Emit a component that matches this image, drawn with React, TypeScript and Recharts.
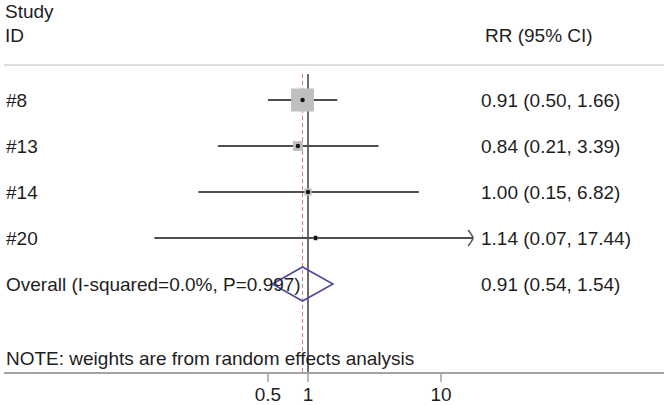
import React from 'react';
import { ScatterChart, Scatter, XAxis, YAxis, ErrorBar, ReferenceLine } from 'recharts';

// ---- data ----
const studies = ['#8', '#13', '#14', '#20'];
const rr = [0.91, 0.84, 1.0, 1.14];
const lower = [0.5, 0.21, 0.15, 0.07];
const upper = [1.66, 3.39, 6.82, 17.44];
const weights = [75.2, 13.9, 7.4, 3.5];
const overallLabel = 'Overall (I-squared=0.0%, P=0.997)';
const overallRR = 0.91;
const overallLower = 0.54;
const overallUpper = 1.54;
const ciTexts = [
  '0.91 (0.50, 1.66)',
  '0.84 (0.21, 3.39)',
  '1.00 (0.15, 6.82)',
  '1.14 (0.07, 17.44)',
  '0.91 (0.54, 1.54)',
];
const xTicks = [0.5, 1, 10];
const arrowCut = 10;

// ---- layout constants ----
const W = 664;
const H = 405;
const FONT = '"Liberation Sans", Arial, Helvetica, sans-serif';
const FS = 19;
const TXT = '#1e1e1e';
const X_MIN = Math.pow(10, -(308 - 4) / 133);
const X_MAX = Math.pow(10, (664 - 308) / 133);
const ROW_PX = 46;
const Y_TOP = 1 - 35 / ROW_PX;
const Y_BOTTOM = Y_TOP + 308 / ROW_PX;
const Y_REF_TOP = 1 - 26 / ROW_PX;
const DIAMOND_HALF = 17 / ROW_PX;

const rowLabels = [...studies, overallLabel];
const rowRR = [...rr, overallRR];

const labelData = rowLabels.map((l, i) => ({ x: rowRR[i], y: i + 1, label: l, ci: ciTexts[i] }));
const boxData = studies.map((s, i) => ({ x: rr[i], y: i + 1, w: weights[i] }));
const pointData = studies.map((s, i) => ({
  x: rr[i],
  y: i + 1,
  err: [rr[i] - lower[i], upper[i] - rr[i]],
}));
const arrowData = studies
  .map((s, i) => ({ x: upper[i], y: i + 1 }))
  .filter((d) => d.x > arrowCut);
const oy = studies.length + 1;
const diamondData = [
  { x: overallLower, y: oy },
  { x: overallRR, y: oy - DIAMOND_HALF },
  { x: overallUpper, y: oy },
  { x: overallRR, y: oy + DIAMOND_HALF },
  { x: overallLower, y: oy },
];

const BoxShape = (props: any) => {
  const { cx, cy, payload } = props;
  const side = 2.65 * Math.sqrt(payload.w);
  return <rect x={cx - side / 2} y={cy - side / 2} width={side} height={side} fill="#bfbfbf" />;
};

const DotShape = (props: any) => {
  const { cx, cy } = props;
  return <circle cx={cx} cy={cy} r={2.2} fill="#111" />;
};

const ArrowShape = (props: any) => {
  const { cx, cy } = props;
  return (
    <path
      d={`M ${cx - 5} ${cy - 8} Q ${cx - 1} ${cy - 3} ${cx} ${cy} Q ${cx - 1} ${cy + 3} ${cx - 5} ${cy + 8}`}
      fill="none"
      stroke="#555"
      strokeWidth={1.5}
    />
  );
};

const NoShape = () => <g />;

const LabelShape = (props: any) => {
  const { cy, payload } = props;
  return (
    <g>
      <text x={6} y={cy} dy="0.36em" fill={TXT} fontSize={FS} fontFamily={FONT} textAnchor="start">
        {payload.label}
      </text>
      <text x={481} y={cy} dy="0.36em" fill={TXT} fontSize={FS} fontFamily={FONT} textAnchor="start">
        {payload.ci}
      </text>
    </g>
  );
};

export default function App() {
  return (
    <div style={{ position: 'absolute', left: 0, top: 0, width: W, height: H, background: '#fff' }}>
      <ScatterChart width={W} height={H} margin={{ top: 65, right: 0, left: 4, bottom: 0 }}>
        <XAxis
          type="number"
          dataKey="x"
          scale="log"
          domain={[X_MIN, X_MAX]}
          allowDataOverflow
          ticks={xTicks}
          interval={0}
          height={32}
          axisLine={{ stroke: '#a3a3a3', strokeWidth: 2 }}
          tickLine={{ stroke: '#a3a3a3', strokeWidth: 1.5 }}
          tickSize={9}
          tickMargin={6}
          tick={{ fill: TXT, fontSize: FS, fontFamily: FONT }}
        />
        <YAxis type="number" dataKey="y" domain={[Y_TOP, Y_BOTTOM]} reversed allowDataOverflow hide />
        <ReferenceLine y={Y_TOP} stroke="#dedede" strokeWidth={2} />
        <Scatter data={boxData} shape={<BoxShape />} isAnimationActive={false} />
        <ReferenceLine
          segment={[{ x: overallRR, y: Y_REF_TOP }, { x: overallRR, y: Y_BOTTOM }]}
          stroke="#c98585"
          strokeWidth={1}
          strokeDasharray="4 3"
        />
        <ReferenceLine
          segment={[{ x: 1, y: Y_REF_TOP }, { x: 1, y: Y_BOTTOM }]}
          stroke="#3c3c3c"
          strokeWidth={1.5}
        />
        <Scatter data={pointData} shape={<DotShape />} isAnimationActive={false}>
          <ErrorBar dataKey="err" direction="x" width={0} stroke="#4f4f4f" strokeWidth={2} />
        </Scatter>
        <Scatter data={arrowData} shape={<ArrowShape />} isAnimationActive={false} />
        <Scatter
          data={diamondData}
          shape={<NoShape />}
          line={{ stroke: '#4b4b9c', strokeWidth: 1.6, fill: 'none' }}
          lineType="joint"
          isAnimationActive={false}
        />
        <Scatter data={labelData} shape={<LabelShape />} isAnimationActive={false} />
      </ScatterChart>
      <svg width={W} height={H} style={{ position: 'absolute', left: 0, top: 0, pointerEvents: 'none' }}>
        <text x={5} y={11} dy="0.36em" fill={TXT} fontSize={FS} fontFamily={FONT}>Study</text>
        <text x={5} y={35} dy="0.36em" fill={TXT} fontSize={FS} fontFamily={FONT}>ID</text>
        <text x={485} y={35} dy="0.36em" fill={TXT} fontSize={FS} fontFamily={FONT}>RR (95% CI)</text>
        <text x={6} y={358} dy="0.36em" fill={TXT} fontSize={FS} fontFamily={FONT}>
          NOTE: weights are from random effects analysis
        </text>
      </svg>
    </div>
  );
}
